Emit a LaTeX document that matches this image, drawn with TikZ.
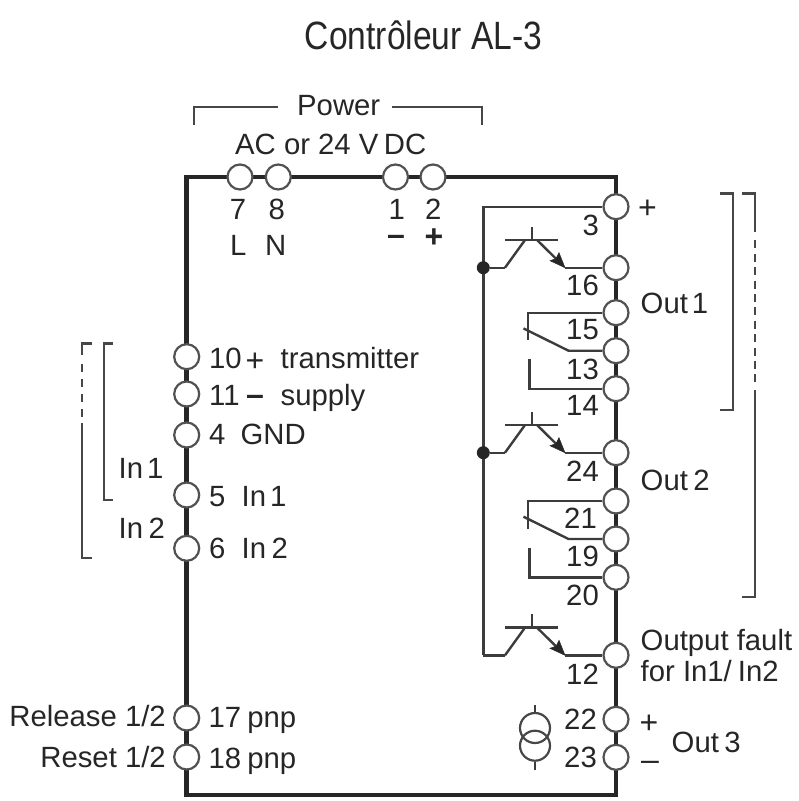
\documentclass[tikz,border=0pt]{standalone}
\usepackage{fontspec}
\setmainfont{Liberation Sans}
\usetikzlibrary{backgrounds,calc}
\definecolor{ink}{HTML}{262626}
\newcommand{\nsp}{\hspace{4pt}}
\newcommand{\wsp}{\hspace{5.5pt}}
\tikzset{
  x=1pt,y=-1pt,
  frameline/.style={line width=4.5pt,draw=ink,line cap=rect},
  wire/.style={line width=2.4pt,draw=ink!90,line join=miter},
  brk/.style={line width=2.4pt,draw=ink!85},
  term/.style={circle,draw=ink!80,line width=2.2pt,fill=white,minimum size=25pt,inner sep=0pt},
  lbl/.style={anchor=base west,inner sep=0pt,text=ink,font=\fontsize{29.3}{31}\selectfont},
  lblr/.style={lbl,anchor=base east},
  lblc/.style={lbl,anchor=base},
  sym/.style={anchor=base,inner sep=0pt,text=ink,font=\fontsize{32}{34}\selectfont},
  boldsym/.style={sym,font=\fontsize{32}{34}\selectfont\bfseries},
  dot/.style={circle,fill=ink,inner sep=0pt,minimum size=13pt},
  srccircle/.style={circle,draw=ink!85,line width=2.2pt,minimum size=30pt,inner sep=0pt},
  headfill/.style={fill=ink,draw=ink,line width=.5pt,line join=miter},
}
\newcommand{\xstr}[1]{%
  \coordinate (#1c) at ($(#1.center)+(-111,0)$);
  \coordinate (#1k) at ($(#1.center)+(-91,-27.7)$);
  \coordinate (#1l) at ($(#1.center)+(-111,-27.7)$);
  \coordinate (#1r) at ($(#1.center)+(-58,-27.7)$);
  \coordinate (#1m) at ($(#1.center)+(-84,-27.7)$);
  \coordinate (#1s) at ($(#1.center)+(-84,-41)$);
  \coordinate (#1f) at ($(#1.center)+(-79,-27.7)$);
  \coordinate (#1e) at ($(#1.center)+(-51,0)$);
  \coordinate (#1h) at ($(#1.center)+(-57,-15)$);
  \coordinate (#1i) at ($(#1.center)+(-60,-9)$);
  \coordinate (#1j) at ($(#1.center)+(-66,-7)$);
  \draw[wire] (#1c) -- (#1k);
  \draw[wire] (#1l) -- (#1r);
  \draw[wire] (#1m) -- (#1s);
  \draw[wire] (#1f) -- (#1i);
  \filldraw[headfill] (#1e) -- (#1h) -- (#1i) -- (#1j) -- cycle;
  \draw[wire] (#1e) -- (#1.west);
}
\newcommand{\rly}[3]{%
  \coordinate (#1a) at ($(#1.center)+(-88,0)$);
  \coordinate (#1b) at ($(#1.center)+(-88,27.5)$);
  \coordinate (#2a) at ($(#2.center)+(-47.5,0)$);
  \coordinate (#2b) at ($(#2.center)+(-92.5,-22.3)$);
  \coordinate (#3a) at ($(#3.center)+(-86.5,0)$);
  \coordinate (#3b) at ($(#3.center)+(-86.5,-29.5)$);
  \draw[wire] (#1.west) -- (#1a) -- (#1b);
  \draw[wire] (#2.west) -- (#2a) -- (#2b);
  \draw[wire] (#3.west) -- (#3a) -- (#3b);
}
\begin{document}
\begin{tikzpicture}
\useasboundingbox (0,0) rectangle (799,801);
% terminals
\node[term] (t7) at (240,177) {};
\node[term] (t8) at (278.3,177) {};
\node[term] (t1) at (395.5,177) {};
\node[term] (t2) at (433,177) {};
\node[term] (t3) at (616,206.7) {};
\node[term] (t16) at (616,267.7) {};
\node[term] (t15) at (616,312.7) {};
\node[term] (t13) at (616,350.7) {};
\node[term] (t14) at (616,388.7) {};
\node[term] (t24) at (616,452.7) {};
\node[term] (t21) at (616,501) {};
\node[term] (t19) at (616,539) {};
\node[term] (t20) at (616,577.3) {};
\node[term] (t12) at (616,655.3) {};
\node[term] (t22) at (616,719.3) {};
\node[term] (t23) at (616,757.3) {};
\node[term] (t10) at (186.7,356.7) {};
\node[term] (t11) at (186.7,394) {};
\node[term] (t4) at (186.7,435) {};
\node[term] (t5) at (186.7,495) {};
\node[term] (t6) at (186.7,548.3) {};
\node[term] (t17) at (186.7,718) {};
\node[term] (t18) at (186.7,757) {};
% housing
\coordinate (tl) at (186.7,177);
\coordinate (tr) at (616,177);
\coordinate (br) at (616,795);
\coordinate (bl) at (186.7,795);
\begin{scope}[on background layer]
\draw[frameline] (tl) -- (tr) -- (br) -- (bl) -- cycle;
\end{scope}
% common wire
\coordinate (cbt) at (483.3,206.7);
\coordinate (cbb) at (483.3,655.3);
\draw[wire] (t3.west) -- (cbt) -- (cbb);
\xstr{t16}
\xstr{t24}
\xstr{t12}
\draw[wire] (cbb) -- (t12c);
\node[dot] (d1) at (t16c-|cbt) {};
\node[dot] (d2) at (t24c-|cbt) {};
\draw[wire] (d1) -- (t16c);
\draw[wire] (d2) -- (t24c);
\rly{t15}{t13}{t14}
\rly{t21}{t19}{t20}
% current source
\node[srccircle] (s1) at (535,728) {};
\node[srccircle] (s2) at (535,745.7) {};
\coordinate (s1t) at (535,705);
\coordinate (s2b) at (535,770);
\draw[wire] (s1t) -- (s1.north);
\draw[wire] (s2.south) -- (s2b);
% power bracket
\coordinate (pa) at (194,125);
\coordinate (pb) at (194,106.7);
\coordinate (pc) at (278,106.7);
\coordinate (pd) at (392,106.7);
\coordinate (pe) at (481.7,106.7);
\coordinate (pf) at (481.7,125);
\draw[brk] (pa) -- (pb) -- (pc);
\draw[brk] (pd) -- (pe) -- (pf);
% right brackets
\coordinate (ra) at (720,193.3);
\coordinate (rb) at (732.7,193.3);
\coordinate (rc) at (732.7,410);
\coordinate (rd) at (720,410);
\draw[brk] (ra) -- (rb) -- (rc) -- (rd);
\coordinate (qa) at (741.7,193.3);
\coordinate (qb) at (755,193.3);
\coordinate (qc) at (755,231.7);
\coordinate (qf) at (755,390);
\coordinate (qg) at (755,596.7);
\coordinate (qh) at (741.7,596.7);
\draw[brk] (qa) -- (qb) -- (qc);
\foreach \k in {0,...,10} \draw[brk] ($(qc)+(0,8.6+13.4*\k)$) -- ++(0,8);
\draw[brk] (qf) -- (qg) -- (qh);
% left brackets
\coordinate (la) at (91.7,343.3);
\coordinate (lb) at (81.7,343.3);
\coordinate (lc) at (81.7,355);
\coordinate (lf) at (81.7,423.3);
\coordinate (lg) at (81.7,557.7);
\coordinate (lh) at (91.7,557.7);
\draw[brk] (la) -- (lb) -- (lc);
\foreach \k in {0,...,3} \draw[brk] ($(lc)+(0,8.5+15.3*\k)$) -- ++(0,8);
\draw[brk] (lf) -- (lg) -- (lh);
\coordinate (ma) at (113,343.3);
\coordinate (mb) at (104,343.3);
\coordinate (mc) at (104,500);
\coordinate (md) at (113,500);
\draw[brk] (ma) -- (mb) -- (mc) -- (md);
% texts
\node[anchor=base,inner sep=0pt,text=ink,font=\fontsize{39.5}{41}\selectfont,xscale=.85,transform shape] (title) at (423.5,49) {Contrôleur AL-3};
\node[lbl] (power) at (297,115) {Power};
\node[lbl] (acdc) at (235,154) {AC or 24 V\wsp DC};
\node[lblc] (n7) at (238,219.3) {7};
\node[lblc] (n8) at (276.7,219.3) {8};
\node[lblc] (n1) at (396.7,219.3) {1};
\node[lblc] (n2) at (433.3,219.3) {2};
\node[lbl] (nL) at (230,255.7) {L};
\node[lbl] (nN) at (265,255.7) {N};
\node[boldsym] (m1) at (396,245) {–};
\node[boldsym] (p2) at (434,247) {+};
\node[sym] (p3) at (647.5,218) {+};
\node[lblr] (n3) at (599,235) {3};
\node[lblr] (n16) at (599,295) {16};
\node[lblr] (n15) at (599,339.3) {15};
\node[lblr] (n13) at (599,379) {13};
\node[lblr] (n14) at (599,415.7) {14};
\node[lblr] (n24) at (599,481) {24};
\node[lblr] (n21) at (597,528.3) {21};
\node[lblr] (n19) at (599,566.7) {19};
\node[lblr] (n20) at (599,605) {20};
\node[lblr] (n12) at (599,684) {12};
\node[lblr] (n22) at (597,729.3) {22};
\node[lblr] (n23) at (597,767.7) {23};
\node[lbl] (o1) at (640.5,313.3) {Out\nsp 1};
\node[lbl] (o2) at (640.5,490.7) {Out\wsp 2};
\node[lbl] (o3) at (671.5,752.7) {Out\wsp 3};
\node[lbl] (of) at (640.5,650.7) {Output fault};
\node[lbl] (ofb) at (640.5,681.7) {for In1/\hspace{6pt}In2};
\node[sym] (p22) at (649,733) {+};
\node[sym] (m23) at (650,770) {–};
\node[lbl] (n10) at (209,368.3) {10};
\node[sym] (p10) at (255,371) {+};
\node[lbl] (tx) at (280.5,368.3) {transmitter};
\node[lbl] (n11) at (209,405) {11};
\node[boldsym] (m11) at (255,405.5) {–};
\node[lbl] (sp) at (280.5,405) {supply};
\node[lbl] (n4) at (209,444) {4};
\node[lbl] (gnd) at (240.5,444) {GND};
\node[lbl] (i1l) at (118.5,478.3) {In\nsp 1};
\node[lbl] (n5) at (209,506.7) {5};
\node[lbl] (i1r) at (241.5,506.7) {In\nsp 1};
\node[lbl] (i2l) at (118.5,538.7) {In\wsp 2};
\node[lbl] (n6) at (209,558) {6};
\node[lbl] (i2r) at (241.5,558) {In\wsp 2};
\node[lbl] (n17) at (208.5,727.5) {17\hspace{6pt}pnp};
\node[lbl] (n18) at (208.5,768) {18\hspace{6pt}pnp};
\node[lblr] (rel) at (166,726.7) {Release 1/2};
\node[lblr] (rst) at (166,767.3) {Reset 1/2};
\end{tikzpicture}
\end{document}
